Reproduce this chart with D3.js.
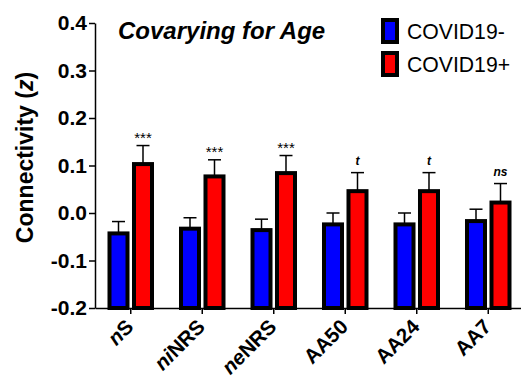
<!DOCTYPE html>
<html>
<head>
<meta charset="utf-8">
<script src="https://cdn.jsdelivr.net/npm/d3@7"></script>
<style>
  body { margin: 0; background: #fff; }
  svg { display: block; font-family: "Liberation Sans", Arial, sans-serif; }
</style>
</head>
<body>
<div id="chart"></div>
<script>
const width = 521;
const height = 378;

// data
const categories = ["nS", "niNRS", "neNRS", "AA50", "AA24", "AA7"];
const italicPart = ["n", "ni", "ne", "", "", ""];
const plainPart = ["S", "NRS", "NRS", "AA50", "AA24", "AA7"];
const groups = ["COVID19-", "COVID19+"];
const negMeans = [-0.043, -0.033, -0.036, -0.024, -0.024, -0.017];
const negErr = [0.025, 0.023, 0.023, 0.024, 0.024, 0.025];
const posMeans = [0.103, 0.077, 0.084, 0.046, 0.046, 0.022];
const posErr = [0.039, 0.035, 0.037, 0.039, 0.039, 0.040];
const sigLabels = ["***", "***", "***", "t", "t", "ns"];
const yTicks = [-0.2, -0.1, 0.0, 0.1, 0.2, 0.3, 0.4];
const colors = ["#0000ff", "#ff0000"];

const margin = { top: 23, right: -3, bottom: 70, left: 95 };

const svg = d3.select("#chart")
  .append("svg")
  .attr("width", width)
  .attr("height", height);

const y = d3.scaleLinear()
  .domain([-0.2, 0.4])
  .range([height - margin.bottom, margin.top]);

const x = d3.scaleBand()
  .domain(categories)
  .range([margin.left, width - margin.right])
  .padding(0);

const xSub = d3.scaleBand()
  .domain(groups)
  .range([-21.25, 21.25])
  .paddingInner(0.265);

const rows = [];
categories.forEach((c, i) => {
  rows.push({ cat: c, group: groups[0], mean: negMeans[i], err: negErr[i], color: colors[0] });
  rows.push({ cat: c, group: groups[1], mean: posMeans[i], err: posErr[i], color: colors[1] });
});

const cx = d => x(d.cat) + x.bandwidth() / 2 + xSub(d.group) + xSub.bandwidth() / 2;

// error bars (upper only)
const eb = svg.append("g").attr("class", "errbars");
eb.selectAll("line.v")
  .data(rows)
  .enter()
  .append("line")
  .attr("x1", cx).attr("x2", cx)
  .attr("y1", d => y(d.mean))
  .attr("y2", d => y(d.mean + d.err))
  .attr("stroke", "#000").attr("stroke-width", 1.5);
eb.selectAll("line.cap")
  .data(rows)
  .enter()
  .append("line")
  .attr("x1", d => cx(d) - 6.5).attr("x2", d => cx(d) + 6.5)
  .attr("y1", d => y(d.mean + d.err))
  .attr("y2", d => y(d.mean + d.err))
  .attr("stroke", "#000").attr("stroke-width", 1.5);

// bars start at the bottom of the axis
svg.append("g")
  .selectAll("rect")
  .data(rows)
  .enter()
  .append("rect")
  .attr("x", d => x(d.cat) + x.bandwidth() / 2 + xSub(d.group))
  .attr("width", xSub.bandwidth())
  .attr("y", d => y(d.mean))
  .attr("height", d => y(-0.2) - y(d.mean))
  .attr("fill", d => d.color)
  .attr("stroke", "#000")
  .attr("stroke-width", 4);

// significance labels
svg.append("g")
  .selectAll("text")
  .data(categories)
  .enter()
  .append("text")
  .attr("x", (d, i) => x(d) + x.bandwidth() / 2 + xSub(groups[1]) + xSub.bandwidth() / 2)
  .attr("y", (d, i) => y(posMeans[i] + posErr[i]) - (sigLabels[i] === "***" ? 3 : 8))
  .attr("text-anchor", "middle")
  .attr("font-size", (d, i) => sigLabels[i] === "***" ? 15 : 12)
  .attr("font-weight", (d, i) => sigLabels[i] === "***" ? "normal" : "bold")
  .attr("font-style", (d, i) => sigLabels[i] === "***" ? "normal" : "italic")
  .text((d, i) => sigLabels[i]);

// y axis
const yAxis = svg.append("g")
  .attr("transform", `translate(${margin.left},0)`)
  .call(d3.axisLeft(y).tickValues(yTicks).tickFormat(d => d.toFixed(1)).tickSize(6).tickPadding(2).tickSizeOuter(0));
yAxis.select(".domain").attr("stroke-width", 1.5);
yAxis.selectAll(".tick line").attr("stroke-width", 1.5);
yAxis.selectAll(".tick text")
  .attr("font-size", 21)
  .attr("font-weight", "bold")
  .attr("fill", "#000")
  .attr("font-family", "Liberation Sans, Arial, sans-serif");

// x axis
const xAxis = svg.append("g")
  .attr("transform", `translate(0,${y(-0.2)})`)
  .call(d3.axisBottom(x).tickSize(6).tickSizeOuter(0).tickFormat(""));
xAxis.select(".domain").attr("stroke-width", 1.5);
xAxis.selectAll(".tick line").attr("stroke-width", 1.5);

const xl = svg.append("g")
  .selectAll("text")
  .data(categories)
  .enter()
  .append("text")
  .attr("transform", d => `translate(${x(d) + x.bandwidth() / 2 + 4},${y(-0.2) + 20}) rotate(-45)`)
  .attr("text-anchor", "end")
  .attr("font-size", 20.5)
  .attr("font-weight", "bold");
xl.append("tspan").attr("font-style", "italic").text((d, i) => italicPart[i]);
xl.append("tspan").text((d, i) => plainPart[i]);

// y label
const yl = svg.append("text")
  .attr("transform", `translate(33,157.5) rotate(-90)`)
  .attr("text-anchor", "middle")
  .attr("font-size", 23)
  .attr("font-weight", "bold");
yl.append("tspan").text("Connectivity (");
yl.append("tspan").attr("font-style", "italic").text("z");
yl.append("tspan").text(")");

// title
svg.append("text")
  .attr("x", 118)
  .attr("y", 39)
  .attr("font-size", 24)
  .attr("font-weight", "bold")
  .attr("font-style", "italic")
  .text("Covarying for Age");

// legend
const legend = svg.append("g")
  .selectAll("g")
  .data(groups)
  .enter()
  .append("g")
  .attr("transform", (d, i) => `translate(383,${20 + i * 33})`);
legend.append("rect")
  .attr("width", 14)
  .attr("height", 22)
  .attr("fill", (d, i) => colors[i])
  .attr("stroke", "#000")
  .attr("stroke-width", 4);
legend.append("text")
  .attr("x", 24)
  .attr("y", 18.5)
  .attr("font-size", 21.2)
  .text(d => d);
</script>
</body>
</html>
